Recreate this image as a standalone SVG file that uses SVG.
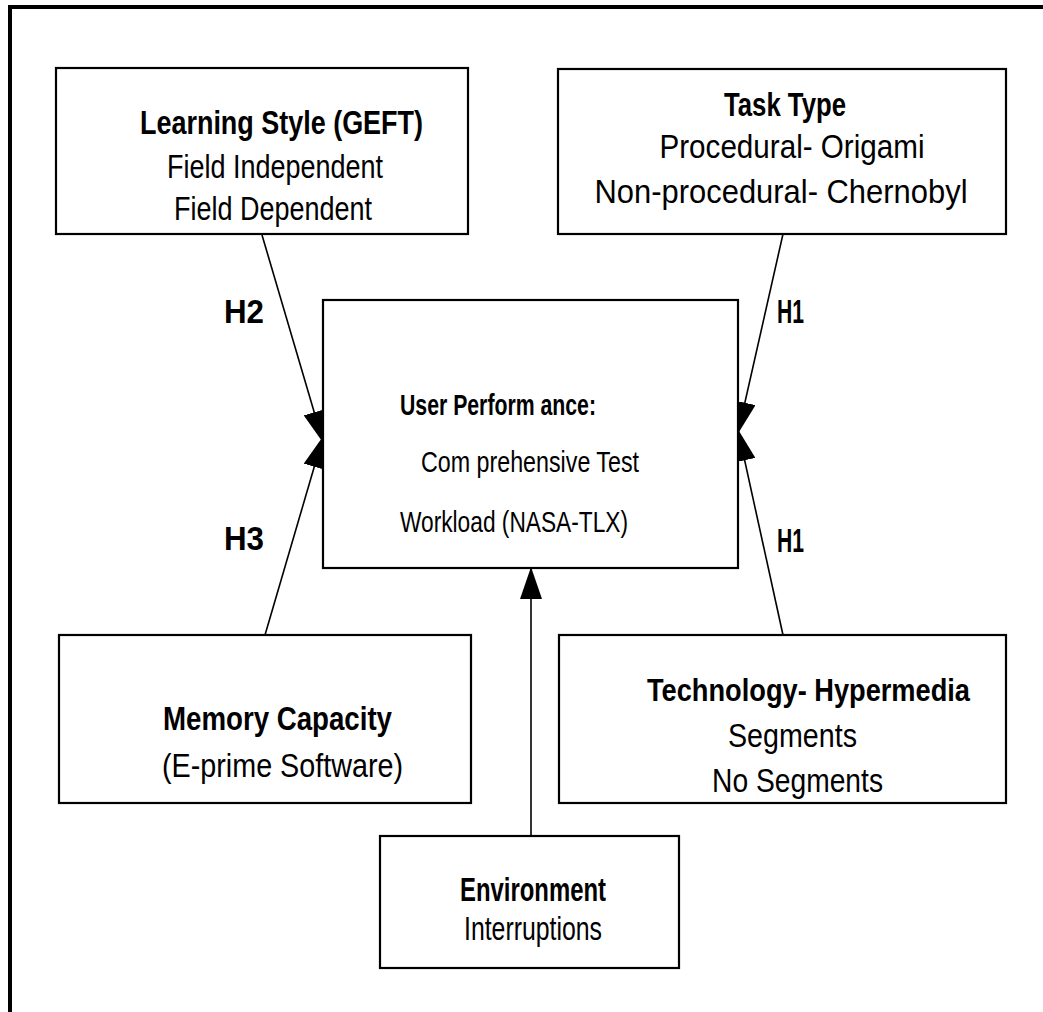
<svg xmlns="http://www.w3.org/2000/svg" width="1043" height="1012" viewBox="0 0 1043 1012">
<defs>
<style>
.box{fill:#fff;stroke:#000;stroke-width:2.2}
.t{font-family:"Liberation Sans",Arial,sans-serif;font-size:34px;fill:#000}
.b{font-weight:bold}
.c{font-size:29px}
.m{text-anchor:middle}
.con line{stroke:#000;stroke-width:1.6;marker-end:url(#ah)}
</style>
<marker id="ah" markerUnits="userSpaceOnUse" viewBox="0 0 32 22" markerWidth="32" markerHeight="22" refX="31" refY="11" orient="auto">
<path d="M0,0 L32,11 L0,22 Z" fill="#000"/>
</marker>
</defs>
<rect width="1043" height="1012" fill="#fff"/>
<g id="frame">
<line x1="8" y1="7" x2="1043" y2="7" stroke="#000" stroke-width="4"/>
<line x1="10" y1="5" x2="10" y2="1012" stroke="#000" stroke-width="4"/>
</g>
<g id="connectors" class="con">
<line x1="262" y1="235" x2="323" y2="442"/>
<line x1="265" y1="635" x2="323" y2="437"/>
<line x1="783" y1="234" x2="738" y2="433"/>
<line x1="783" y1="635" x2="738" y2="430"/>
<line x1="531" y1="836" x2="531" y2="568"/>
</g>
<g id="labels">
<text class="t b" x="224" y="323" textLength="40" lengthAdjust="spacingAndGlyphs">H2</text>
<text class="t b" x="777" y="323" textLength="27" lengthAdjust="spacingAndGlyphs">H1</text>
<text class="t b" x="224" y="550" textLength="40" lengthAdjust="spacingAndGlyphs">H3</text>
<text class="t b" x="777" y="552" textLength="27" lengthAdjust="spacingAndGlyphs">H1</text>
</g>
<g id="learning">
<rect class="box" x="56" y="68" width="412" height="166"/>
<text class="t b" x="140" y="134" textLength="283" lengthAdjust="spacingAndGlyphs">Learning Style (GEFT)</text>
<text class="t" x="167" y="178" textLength="216" lengthAdjust="spacingAndGlyphs">Field Independent</text>
<text class="t" x="174" y="220" textLength="198" lengthAdjust="spacingAndGlyphs">Field Dependent</text>
</g>
<g id="task">
<rect class="box" x="558" y="69" width="448" height="165"/>
<text class="t b m" x="785" y="116" textLength="122" lengthAdjust="spacingAndGlyphs">Task Type</text>
<text class="t m" x="792" y="158" textLength="265" lengthAdjust="spacingAndGlyphs">Procedural- Origami</text>
<text class="t m" x="781" y="203" textLength="373" lengthAdjust="spacingAndGlyphs">Non-procedural- Chernobyl</text>
</g>
<g id="performance">
<rect class="box" x="323" y="300" width="415" height="268"/>
<text class="t c b" x="400" y="415" textLength="196" lengthAdjust="spacingAndGlyphs">User Perform ance:</text>
<text class="t c" x="421" y="472" textLength="218" lengthAdjust="spacingAndGlyphs">Com prehensive Test</text>
<text class="t c" x="400" y="532" textLength="228" lengthAdjust="spacingAndGlyphs">Workload (NASA-TLX)</text>
</g>
<g id="memory">
<rect class="box" x="59" y="635" width="412" height="168"/>
<text class="t b" x="163" y="730" textLength="229" lengthAdjust="spacingAndGlyphs">Memory Capacity</text>
<text class="t" x="162" y="777" textLength="241" lengthAdjust="spacingAndGlyphs">(E-prime Software)</text>
</g>
<g id="technology">
<rect class="box" x="559" y="635" width="447" height="168"/>
<text class="t b" x="647" y="701" font-size="31" style="font-size:31px" textLength="323" lengthAdjust="spacingAndGlyphs">Technology- Hypermedia</text>
<text class="t" x="728" y="747" textLength="129" lengthAdjust="spacingAndGlyphs">Segments</text>
<text class="t" x="712" y="792" textLength="171" lengthAdjust="spacingAndGlyphs">No Segments</text>
</g>
<g id="environment">
<rect class="box" x="380" y="836" width="299" height="132"/>
<text class="t b m" x="533" y="901" textLength="146" lengthAdjust="spacingAndGlyphs">Environment</text>
<text class="t m" x="533" y="940" textLength="138" lengthAdjust="spacingAndGlyphs">Interruptions</text>
</g>
</svg>
